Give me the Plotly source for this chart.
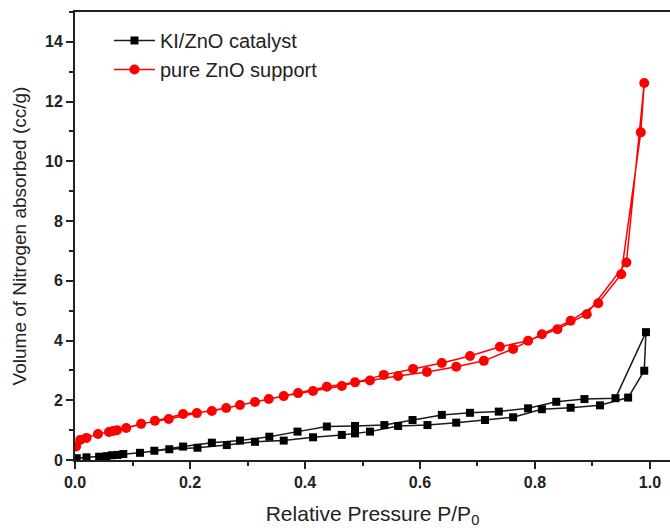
import plotly.graph_objects as go

# N2 sorption isotherms (adsorption branch then desorption branch)
ki_ads_p = [0.003, 0.020, 0.042, 0.055, 0.064, 0.074, 0.084, 0.113, 0.164, 0.213,
            0.264, 0.313, 0.363, 0.414, 0.464, 0.487, 0.513, 0.562, 0.613, 0.663,
            0.713, 0.762, 0.812, 0.862, 0.913, 0.962, 0.990, 0.993]
ki_ads_v = [0.06, 0.09, 0.11, 0.13, 0.16, 0.17, 0.20, 0.24, 0.36, 0.41,
            0.50, 0.61, 0.65, 0.76, 0.84, 0.89, 0.95, 1.14, 1.17, 1.25,
            1.34, 1.43, 1.70, 1.75, 1.83, 2.09, 2.99, 4.28]
ki_des_p = [0.940, 0.886, 0.837, 0.788, 0.737, 0.687, 0.638, 0.587, 0.538, 0.487,
            0.438, 0.387, 0.338, 0.287, 0.238, 0.188, 0.138]
ki_des_v = [2.07, 2.04, 1.95, 1.73, 1.62, 1.58, 1.51, 1.34, 1.17, 1.14,
            1.12, 0.95, 0.78, 0.65, 0.58, 0.45, 0.31]

zno_ads_p = [0.002, 0.009, 0.020, 0.040, 0.059, 0.073, 0.089, 0.139, 0.188, 0.238,
             0.287, 0.337, 0.388, 0.438, 0.487, 0.513, 0.562, 0.612, 0.663, 0.711,
             0.762, 0.812, 0.862, 0.910, 0.950, 0.984, 0.990]
zno_ads_v = [0.45, 0.67, 0.74, 0.87, 0.94, 1.00, 1.07, 1.31, 1.54, 1.64,
             1.84, 2.04, 2.24, 2.45, 2.60, 2.66, 2.81, 2.95, 3.12, 3.32,
             3.72, 4.21, 4.66, 5.25, 6.22, 10.97, 12.62]
zno_des_p = [0.959, 0.890, 0.839, 0.788, 0.739, 0.687, 0.638, 0.588, 0.537, 0.464,
             0.414, 0.363, 0.313, 0.263, 0.212, 0.163, 0.115, 0.066]
zno_des_v = [6.61, 4.88, 4.38, 3.99, 3.79, 3.48, 3.25, 3.05, 2.85, 2.48,
             2.31, 2.14, 1.94, 1.74, 1.57, 1.37, 1.21, 0.97]

x_ticks = [0.0, 0.2, 0.4, 0.6, 0.8, 1.0]
y_ticks = [0, 2, 4, 6, 8, 10, 12, 14]

FONT = "Arial, Liberation Sans, sans-serif"
INK = "#222222"

fig = go.Figure()
fig.add_trace(go.Scatter(
    x=ki_ads_p + ki_des_p, y=ki_ads_v + ki_des_v,
    mode="lines+markers", name="KI/ZnO catalyst",
    line=dict(color="#1a1a1a", width=1.5),
    marker=dict(symbol="square", size=8, color="black"),
))
fig.add_trace(go.Scatter(
    x=zno_ads_p + zno_des_p, y=zno_ads_v + zno_des_v,
    mode="lines+markers", name="pure ZnO support",
    line=dict(color="#ff0000", width=1.5),
    marker=dict(symbol="circle", size=10, color="#ff0000"),
))

axis_common = dict(
    showgrid=False, zeroline=False,
    showline=True, linecolor=INK, linewidth=2,
    ticks="outside", ticklen=7, tickwidth=2, tickcolor=INK,
    tickfont=dict(family=FONT, size=16, color=INK, weight="bold"),
)

fig.update_layout(
    width=670, height=528,
    margin=dict(l=75, r=0, t=12, b=68),
    paper_bgcolor="white", plot_bgcolor="white",
    font=dict(family=FONT, color=INK),
    showlegend=True,
    legend=dict(
        x=0.0571, y=0.98, xanchor="left", yanchor="top",
        bgcolor="rgba(0,0,0,0)", borderwidth=0,
        font=dict(family=FONT, size=20, color=INK),
        tracegroupgap=0, itemwidth=41,
    ),
    xaxis=dict(
        range=[0, 1.0348], tickvals=x_ticks, ticktext=[f"{v:.1f}" for v in x_ticks],
        mirror=True,
        minor=dict(dtick=0.1, ticks="outside", ticklen=4, tickwidth=2, tickcolor=INK),
        title=dict(text="Relative Pressure P/P<sub>0</sub>",
                   font=dict(family=FONT, size=21, color=INK), standoff=17),
        **axis_common,
    ),
    yaxis=dict(
        range=[0, 15], tickvals=y_ticks,
        minor=dict(dtick=1, ticks="outside", ticklen=4, tickwidth=2, tickcolor=INK),
        title=dict(text="Volume of Nitrogen absorbed (cc/g)",
                   font=dict(family=FONT, size=19, color=INK), standoff=13),
        **axis_common,
    ),
)

fig.write_html("out.html")
